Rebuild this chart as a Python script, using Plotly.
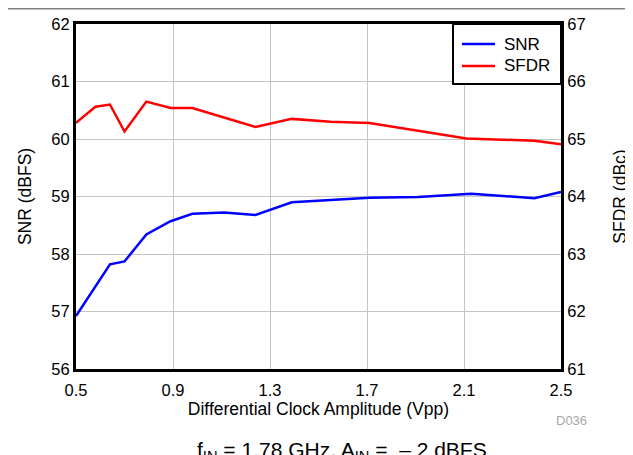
import plotly.graph_objects as go

# values
snr_x = [0.5, 0.64, 0.70, 0.79, 0.89, 0.98, 1.11, 1.24, 1.39, 1.55, 1.71, 1.91, 2.13, 2.39, 2.5]
snr_db = [56.92, 57.82, 57.87, 58.34, 58.57, 58.70, 58.72, 58.68, 58.90, 58.94, 58.98, 58.99, 59.05, 58.97, 59.08]

sfdr_x = [0.5, 0.58, 0.64, 0.70, 0.79, 0.89, 0.98, 1.24, 1.39, 1.55, 1.71, 2.11, 2.39, 2.5]
sfdr_db = [65.28, 65.56, 65.60, 65.13, 65.65, 65.54, 65.54, 65.21, 65.35, 65.30, 65.28, 65.01, 64.97, 64.91]

x_ticks = [0.5, 0.9, 1.3, 1.7, 2.1, 2.5]

FONT = "Liberation Sans, Arial, sans-serif"
# the page body adds an 8px margin, so the figure is drawn 8px smaller
W, H = 625, 447
ML, MR, MT, MB = 68, 72, 16, 86
PW, PH = W - ML - MR, H - MT - MB


def px(x):
    return (x - ML) / PW


def py(y):
    return 1 - (y - MT) / PH


colors = {"SNR": "#0000ff", "SFDR": "#ff0000"}

fig = go.Figure()
fig.add_trace(
    go.Scatter(x=snr_x, y=snr_db, mode="lines", name="SNR",
               line=dict(color=colors["SNR"], width=2.5))
)
fig.add_trace(
    go.Scatter(x=sfdr_x, y=sfdr_db, mode="lines", name="SFDR", yaxis="y2",
               line=dict(color=colors["SFDR"], width=2.5))
)

axis_common = dict(
    showline=True, linecolor="black", linewidth=3,
    showgrid=True, gridcolor="#c4c4c4", gridwidth=1,
    ticks="", zeroline=False, automargin=False,
    tickfont=dict(family=FONT, size=16.5, color="black"),
)
title_font = dict(family=FONT, size=17.5, color="black")

fig.update_layout(
    width=W, height=H,
    margin=dict(l=ML, r=MR, t=MT, b=MB),
    paper_bgcolor="white", plot_bgcolor="white",
    font=dict(family=FONT, color="black"),
    showlegend=False,
    xaxis=dict(
        range=[0.5, 2.5], tickvals=x_ticks, ticktext=[f"{v:.1f}" for v in x_ticks],
        mirror=True, ticklabelstandoff=4,
        title=dict(text="Differential Clock Amplitude (Vpp)", standoff=4, font=title_font),
        **axis_common,
    ),
    yaxis=dict(
        range=[56, 62], dtick=1, ticklabelstandoff=0,
        title=dict(text="SNR (dBFS)", standoff=16, font=title_font),
        **axis_common,
    ),
    yaxis2=dict(
        range=[61, 67], dtick=1, overlaying="y", side="right", ticklabelstandoff=0,
        title=dict(text="SFDR (dBc)", standoff=30, font=title_font),
        **{**axis_common, "showgrid": False},
    ),
)

# grey rule at the top of the page
fig.add_shape(
    type="line", xref="paper", yref="paper",
    x0=px(0), x1=px(W), y0=py(0.5), y1=py(0.5),
    line=dict(color="#808080", width=2),
)

# legend box in the top right corner
fig.add_shape(
    type="rect", xref="paper", yref="paper",
    x0=px(445), x1=1, y0=py(76), y1=1,
    fillcolor="white", line=dict(color="black", width=2), layer="above",
)
for i, name in enumerate(["SNR", "SFDR"]):
    yy = 36 + 22 * i
    fig.add_shape(
        type="line", xref="paper", yref="paper",
        x0=px(454), x1=px(487), y0=py(yy), y1=py(yy),
        line=dict(color=colors[name], width=2.5), layer="above",
    )
    fig.add_annotation(
        text=name, xref="paper", yref="paper",
        x=px(494), y=py(yy), xanchor="left", yanchor="middle", showarrow=False,
        font=dict(family=FONT, size=17, color="black"),
    )

fig.add_annotation(
    text="D036", xref="paper", yref="paper",
    x=px(581), y=py(412),
    xanchor="right", yanchor="middle", showarrow=False,
    font=dict(family=FONT, size=13, color="#a8a8a8"),
)
fig.add_annotation(
    text="f<sub>IN</sub> = 1.78 GHz, A<sub>IN</sub> =  \u2013 2 dBFS",
    xref="paper", yref="paper",
    x=px(334), y=py(443),
    xanchor="center", yanchor="middle", showarrow=False,
    font=dict(family=FONT, size=21, color="black"),
)

fig.write_html("out.html")
